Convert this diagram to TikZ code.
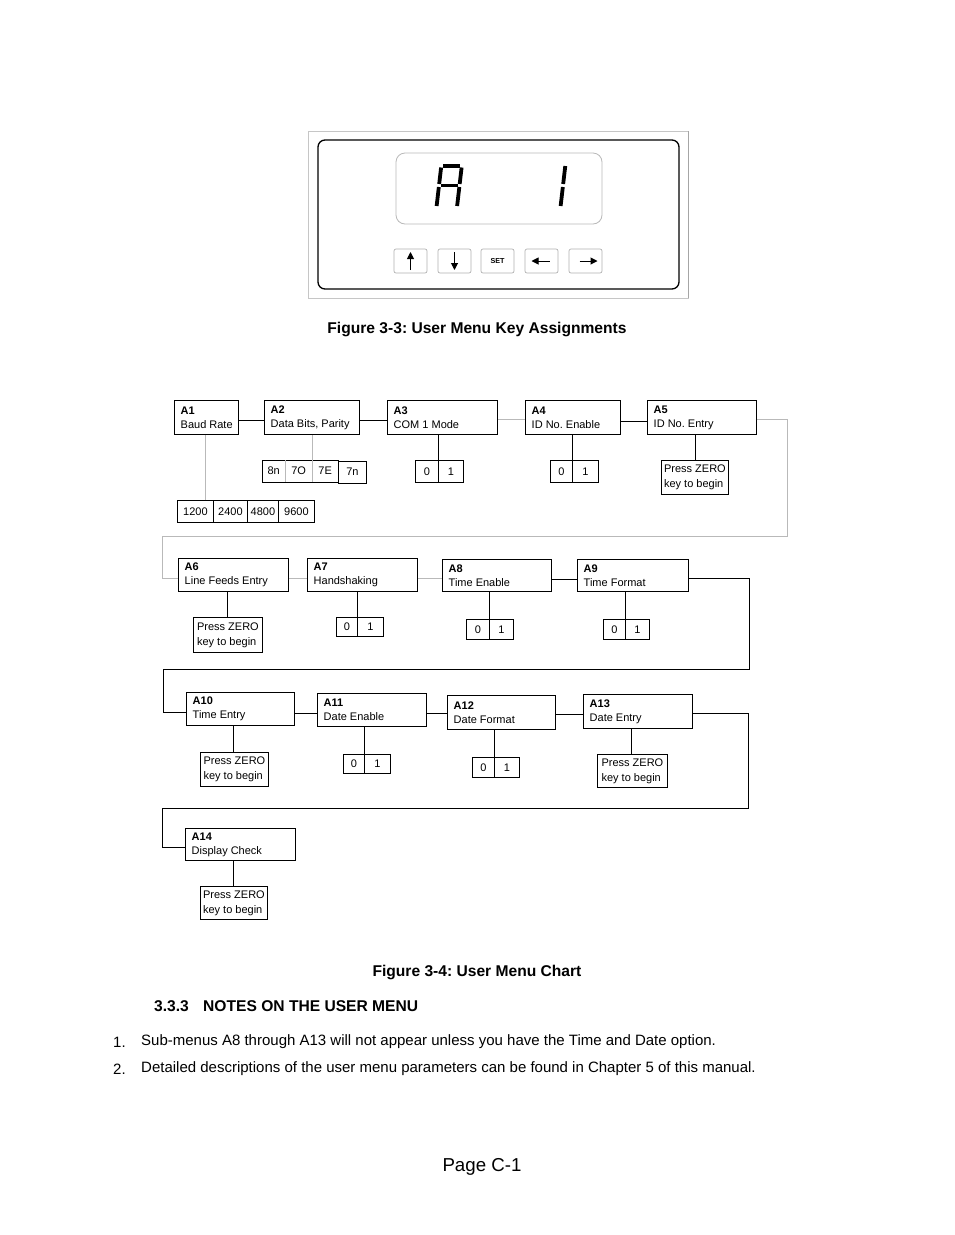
\documentclass[tikz,border=0pt]{standalone}
\usepackage{fontspec}
\setmainfont{Liberation Sans}
\usetikzlibrary{arrows.meta}
\frenchspacing
\newcommand\menuBox[7]{%
  \node[mbox, minimum width=#4pt, minimum height=#5pt] (#1) at (#2,#3) {};
  \node[mtext] (#1t) at ([xshift=6.5pt]#1.west) {\textbf{#6}\\#7};}
\begin{document}
\begin{tikzpicture}[x=1pt,y=-1pt,
  mbox/.style={draw, line width=0.8pt, anchor=north west, inner sep=0pt},
  mtext/.style={anchor=west, align=left, inner sep=0pt, font=\fontsize{11}{14}\selectfont},
  cell/.style={draw, line width=0.8pt, anchor=north west, inner sep=0pt, font=\fontsize{11}{13}\selectfont},
  cellnd/.style={anchor=north west, inner sep=0pt, font=\fontsize{11}{13}\selectfont},
  zbox/.style={draw, line width=0.8pt, anchor=north west, inner xsep=2pt, inner ysep=0pt, align=left, font=\fontsize{11}{15}\selectfont},
  link/.style={line width=0.8pt},
  faint/.style={line width=0.8pt, draw=gray!55},
  btn/.style={draw=gray!60, line width=0.7pt, rounded corners=2pt, minimum width=33pt, minimum height=24pt, inner sep=0pt},
  keyarrow/.style={line width=1pt, -{Triangle[length=7pt,width=7pt]}},
  seg/.style={line width=3.8pt},
  caption/.style={font=\fontsize{15.6}{18}\selectfont\bfseries, inner sep=0pt},
  body/.style={font=\fontsize{15}{18}\selectfont, inner sep=0pt, anchor=west}
]
\useasboundingbox[fill=white] (0,0) rectangle (954,1235);

% ---------- front panel ----------
\draw[gray!45, line width=0.8pt] (308,131) rectangle (688,298);
\draw[gray!70, line width=0.8pt] (688,131) -- (688,298);
\draw[line width=1.3pt, rounded corners=7pt] (318,140) rectangle (679,289);
\draw[gray!55, line width=0.8pt, rounded corners=9pt] (396,153) rectangle (602,224);
% seven segment "A"
\begin{scope}[shift={(440,164)}, xslant=0.116]
  \draw[seg] (3.5,1.8) -- (20,1.8);
  \draw[seg] (1.5,3.5) -- (1.5,20);
  \draw[seg] (22,3.5) -- (22,20);
  \draw[seg] (3.5,21.5) -- (20,21.5);
  \draw[seg] (1.5,23) -- (1.5,42);
  \draw[seg] (22,23) -- (22,42);
\end{scope}
% seven segment "1"
\begin{scope}[shift={(565.5,164)}, xslant=0.116]
  \draw[seg] (0,2) -- (0,20);
  \draw[seg] (0,23) -- (0,42);
\end{scope}
% keys
\node[btn] (kup) at (410.5,261) {};
\node[btn] (kdn) at (454.5,261) {};
\node[btn, font=\fontsize{7.2}{8}\selectfont\bfseries] (kset) at (497.5,261) {SET};
\node[btn] (klt) at (541.5,261) {};
\node[btn] (krt) at (585.5,261) {};
\draw[keyarrow] ([yshift=-9pt]kup.center) -- ([yshift=9pt]kup.center);
\draw[keyarrow] ([yshift=9pt]kdn.center) -- ([yshift=-9pt]kdn.center);
\draw[keyarrow] ([xshift=8pt]klt.center) -- ([xshift=-10pt]klt.center);
\draw[keyarrow] ([xshift=-6pt]krt.center) -- ([xshift=12pt]krt.center);

\node[caption] (cap33) at (477,329) {Figure 3-3: User Menu Key Assignments};

% ---------- menu chart: row 1 ----------
\menuBox{a1}{174}{400}{64}{34}{A1}{Baud Rate}
\menuBox{a2}{264}{400}{95}{34}{A2}{Data Bits, Parity}
\menuBox{a3}{387}{400}{110}{34}{A3}{COM 1 Mode}
\menuBox{a4}{525}{400}{95}{34}{A4}{ID No. Enable}
\menuBox{a5}{647}{400}{109}{34}{A5}{ID No. Entry}

\node[cell, minimum width=36pt, minimum height=22pt] (b1200) at (177,500) {1200};
\node[cell, minimum width=34pt, minimum height=22pt] (b2400) at (213,500) {2400};
\node[cell, minimum width=31pt, minimum height=22pt] (b4800) at (247,500) {4800};
\node[cell, minimum width=36pt, minimum height=22pt] (b9600) at (278,500) {9600};

\node[cellnd, minimum width=23pt, minimum height=22pt] (c8n) at (262,460) {8n};
\node[cellnd, minimum width=27pt, minimum height=22pt] (c7O) at (285,460) {7O};
\node[cellnd, minimum width=26pt, minimum height=22pt] (c7E) at (312,460) {7E};
\node[cell, minimum width=28pt, minimum height=22pt] (c7n) at (338,460.5) {7n};
\draw[link] (c8n.north west) rectangle (c7E.south east);
\draw[faint] (c8n.north east) -- (c8n.south east);

\node[cell, minimum width=23pt, minimum height=22pt] (a3c0) at (415,460) {0};
\node[cell, minimum width=25pt, minimum height=22pt] (a3c1) at (438,460) {1};
\node[cell, minimum width=22pt, minimum height=22pt] (a4c0) at (550,460) {0};
\node[cell, minimum width=26pt, minimum height=22pt] (a4c1) at (572,460) {1};
\node[zbox, minimum width=67pt, minimum height=34pt] (a5z) at (661,460) {Press ZERO\\key to begin};

\draw[link] (a1.east |- 0,420) -- (a2.west |- 0,420);
\draw[link] (a2.east |- 0,420) -- (a3.west |- 0,420);
\draw[faint] (a3.east |- 0,419) -- (a4.west |- 0,419);
\draw[link] (a4.east |- 0,421) -- (a5.west |- 0,421);
\draw[faint] (a1.south -| 205,0) -- (b1200.north -| 205,0);
\draw[faint] (a2.south -| c7E.south west) -- (c7E.south west);
\draw[link] (a3.south -| a3c1.north west) -- (a3c1.north west);
\draw[link] (a4.south -| a4c1.north west) -- (a4c1.north west);
\draw[link] (a5.south -| 695,0) -- (a5z.north -| 695,0);

\coordinate (r1a) at (787,419);
\coordinate (r1b) at (787,536);
\coordinate (r1c) at (162,536);
\coordinate (r1d) at (162,578);

% ---------- row 2 ----------
\menuBox{a6}{178}{558}{110}{33}{A6}{Line Feeds Entry}
\menuBox{a7}{307}{558}{110}{33}{A7}{Handshaking}
\menuBox{a8}{442}{559}{109}{32}{A8}{Time Enable}
\menuBox{a9}{577}{559}{111}{32}{A9}{Time Format}

\draw[faint] (a5.east |- r1a) -- (r1a) -- (r1b) -- (r1c) -- (r1d) -- (a6.west |- r1d);

\node[zbox, minimum width=69pt, minimum height=35pt] (a6z) at (193,617) {Press ZERO\\key to begin};
\node[cell, minimum width=21pt, minimum height=19pt] (a7c0) at (336,617) {0};
\node[cell, minimum width=26pt, minimum height=19pt] (a7c1) at (357,617) {1};
\node[cell, minimum width=23pt, minimum height=20pt] (a8c0) at (466,619) {0};
\node[cell, minimum width=24pt, minimum height=20pt] (a8c1) at (489,619) {1};
\node[cell, minimum width=22pt, minimum height=20pt] (a9c0) at (603,619) {0};
\node[cell, minimum width=24pt, minimum height=20pt] (a9c1) at (625,619) {1};

\draw[faint] (a6.east |- 0,578) -- (a7.west |- 0,578);
\draw[faint] (a7.east |- 0,578) -- (a8.west |- 0,578);
\draw[link] (a8.east |- 0,579) -- (a9.west |- 0,579);
\draw[link] (a6.south -| 227,0) -- (a6z.north -| 227,0);
\draw[link] (a7.south -| a7c1.south west) -- (a7c1.south west);
\draw[link] (a8.south -| a8c1.north west) -- (a8c1.north west);
\draw[link] (a9.south -| a9c1.north west) -- (a9c1.north west);

\coordinate (r2a) at (749,578);
\coordinate (r2b) at (749,669);
\coordinate (r2c) at (163,669);
\coordinate (r2d) at (163,712);

% ---------- row 3 ----------
\menuBox{a10}{186}{692}{108}{33}{A10}{Time Entry}
\menuBox{a11}{317}{693}{109}{33}{A11}{Date Enable}
\menuBox{a12}{447}{695}{108}{34}{A12}{Date Format}
\menuBox{a13}{583}{694}{109}{34}{A13}{Date Entry}

\draw[link] (a9.east |- r2a) -- (r2a) -- (r2b) -- (r2c) -- (r2d) -- (a10.west |- r2d);

\node[zbox, minimum width=68pt, minimum height=34pt] (a10z) at (200,752) {Press ZERO\\key to begin};
\node[cell, minimum width=21pt, minimum height=19pt] (a11c0) at (343,754) {0};
\node[cell, minimum width=26pt, minimum height=19pt] (a11c1) at (364,754) {1};
\node[cell, minimum width=22pt, minimum height=20pt] (a12c0) at (472,757) {0};
\node[cell, minimum width=25pt, minimum height=20pt] (a12c1) at (494,757) {1};
\node[zbox, minimum width=70pt, minimum height=33pt] (a13z) at (597,754) {Press ZERO\\key to begin};

\draw[link] (a10.east |- 0,713) -- (a11.west |- 0,713);
\draw[link] (a11.east |- 0,713) -- (a12.west |- 0,713);
\draw[link] (a12.east |- 0,714) -- (a13.west |- 0,714);
\draw[link] (a10.south -| 233,0) -- (a10z.north -| 233,0);
\draw[link] (a11.south -| a11c1.south west) -- (a11c1.south west);
\draw[link] (a12.south -| a12c1.south west) -- (a12c1.south west);
\draw[link] (a13.south -| 631,0) -- (a13z.north -| 631,0);

\coordinate (r3a) at (748,713);
\coordinate (r3b) at (748,808);
\coordinate (r3c) at (162,808);
\coordinate (r3d) at (162,847);

% ---------- row 4 ----------
\menuBox{a14}{185}{828}{110}{32}{A14}{Display Check}
\draw[link] (a13.east |- r3a) -- (r3a) -- (r3b) -- (r3c) -- (r3d) -- (a14.west |- r3d);
\node[zbox, minimum width=67pt, minimum height=33pt] (a14z) at (200,886) {Press ZERO\\key to begin};
\draw[link] (a14.south -| 233,0) -- (a14z.north -| 233,0);

% ---------- text ----------
\node[caption] (cap34) at (477,972) {Figure 3-4: User Menu Chart};
\node[caption, anchor=west] (secnum) at (154,1006) {3.3.3};
\node[caption, anchor=west] (sectitle) at (203,1006) {NOTES ON THE USER MENU};
\node[body] (n1) at (113,1042) {1.};
\node[body] (t1) at (141,1042) {Sub-menus A8 through A13 will not appear unless you have the Time and Date option.};
\node[body] (n2) at (113,1069) {2.};
\node[body] (t2) at (141,1069) {Detailed descriptions of the user menu parameters can be found in Chapter 5 of this manual.};
\node[font=\fontsize{18.7}{22}\selectfont, inner sep=0pt] (page) at (482,1167) {Page C-1};
\end{tikzpicture}
\end{document}
